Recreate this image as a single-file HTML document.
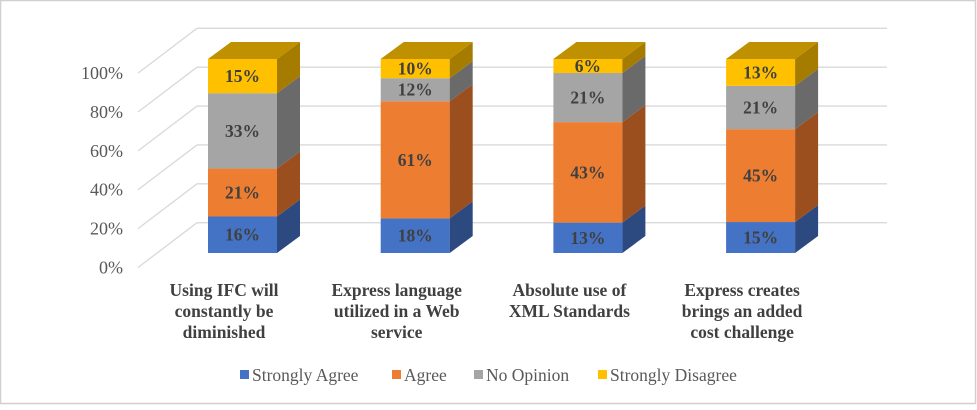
<!DOCTYPE html>
<html><head><meta charset="utf-8">
<style>
html,body{margin:0;padding:0;background:#fff;}
svg text, svg tspan{font-family:"Liberation Serif","DejaVu Serif",serif;}
</style></head>
<body>
<svg id="chart" width="977" height="405" viewBox="0 0 977 405">
<rect x="0.5" y="0.5" width="975" height="403" fill="#fff" stroke="#d0d0d0" stroke-width="1.5"/>
<g id="grid"></g>
<g id="bars"></g>
<g id="xlabels"></g>
<g id="legend"></g>
</svg>
<script>
const categories = [
  ["Using IFC will","constantly be","diminished"],
  ["Express language","utilized in a Web","service"],
  ["Absolute use of","XML Standards"],
  ["Express creates","brings an added","cost challenge"]
];
const seriesNames = ["Strongly Agree","Agree","No Opinion","Strongly Disagree"];
const stronglyAgree = [16,18,13,15];
const agree = [21,61,43,45];
const noOpinion = [33,12,21,21];
const stronglyDisagree = [15,10,6,13];
const tickLabels = ["0%","20%","40%","60%","80%","100%"];
const tickValues = [0,20,40,60,80,100];

const front = ["#4472C4","#ED7D31","#A5A5A5","#FFC000"];
const side = ["#2C4A80","#9C4F1E","#6A6A6A","#A67C00"];
const top_ = ["#34599A","#B85F24","#808080","#BF9000"];
const series = [stronglyAgree, agree, noOpinion, stronglyDisagree];
const NS = "http://www.w3.org/2000/svg";
function mk(tag, attrs, parent){const e=document.createElementNS(NS,tag);for(const k in attrs)e.setAttribute(k,attrs[k]);parent.appendChild(e);return e;}

const backY = v => 222.7 - v*1.944;
const frontY = v => 267.5 - v*1.944;
const barBase = 253, barH = 194;
const yBar = frac => barBase - frac*barH;
const xCat = i => 208 + i*172.7;
const barW = 69, dX = 23, dY = -17;

const grid = document.getElementById('grid');
tickValues.forEach((v,i)=>{
  const l=mk('line',{x1:197,y1:backY(v),x2:887,y2:backY(v),stroke:'#d9d9d9','stroke-width':1.3},grid);
  
  
  const d=mk('line',{x1:138,y1:frontY(v),x2:197,y2:backY(v),stroke:'#d9d9d9','stroke-width':1.3},grid);
  
  
  const t=mk('text',{x:123,y:frontY(v)+6,'text-anchor':'end','font-size':18,fill:'#595959'},grid);
  t.textContent=tickLabels[i];
  
  
});

const bars = document.getElementById('bars');
const xl = document.getElementById('xlabels');
categories.forEach((c,i)=>{
  const total = series.reduce((s,a)=>s+a[i],0);
  let cum = 0;
  const x = xCat(i);
  series.forEach((arr,s)=>{
    const y0 = yBar(cum/total), y1 = yBar((cum+arr[i])/total);
    cum += arr[i];
    const g = mk('g',{},bars);
    
    
    mk('rect',{x:x,y:y1,width:barW,height:y0-y1,fill:front[s]},g);
    mk('polygon',{points:`${x+barW},${y0} ${x+barW+dX},${y0+dY} ${x+barW+dX},${y1+dY} ${x+barW},${y1}`,fill:side[s]},g);
    if(s===series.length-1){
      mk('polygon',{points:`${x},${y1} ${x+dX},${y1+dY} ${x+barW+dX},${y1+dY} ${x+barW},${y1}`,fill:top_[s]},g);
    }
    const t = mk('text',{x:x+barW/2,y:(y0+y1)/2+6,'text-anchor':'middle','font-size':17.5,'font-weight':'bold',fill:'#404040'},g);
    t.textContent = arr[i]+'%';
    
    
  });
  c.forEach((line,k)=>{
    const ts = mk('text',{x:x+16,y:296+k*21,'text-anchor':'middle','font-size':17.5,'font-weight':'bold',fill:'#404040'},xl);
    ts.textContent=line;
    
    
  });
});

const legend = document.getElementById('legend');
const legX = [240,392,474,598];
seriesNames.forEach((n,s)=>{
  const g = mk('g',{},legend);
  
  
  mk('rect',{x:legX[s],y:370,width:9,height:9,fill:front[s]},g);
  const t = mk('text',{x:legX[s]+12,y:381,'font-size':17.5,fill:'#595959'},g);
  t.textContent = n;
});
</script>
</body></html>
